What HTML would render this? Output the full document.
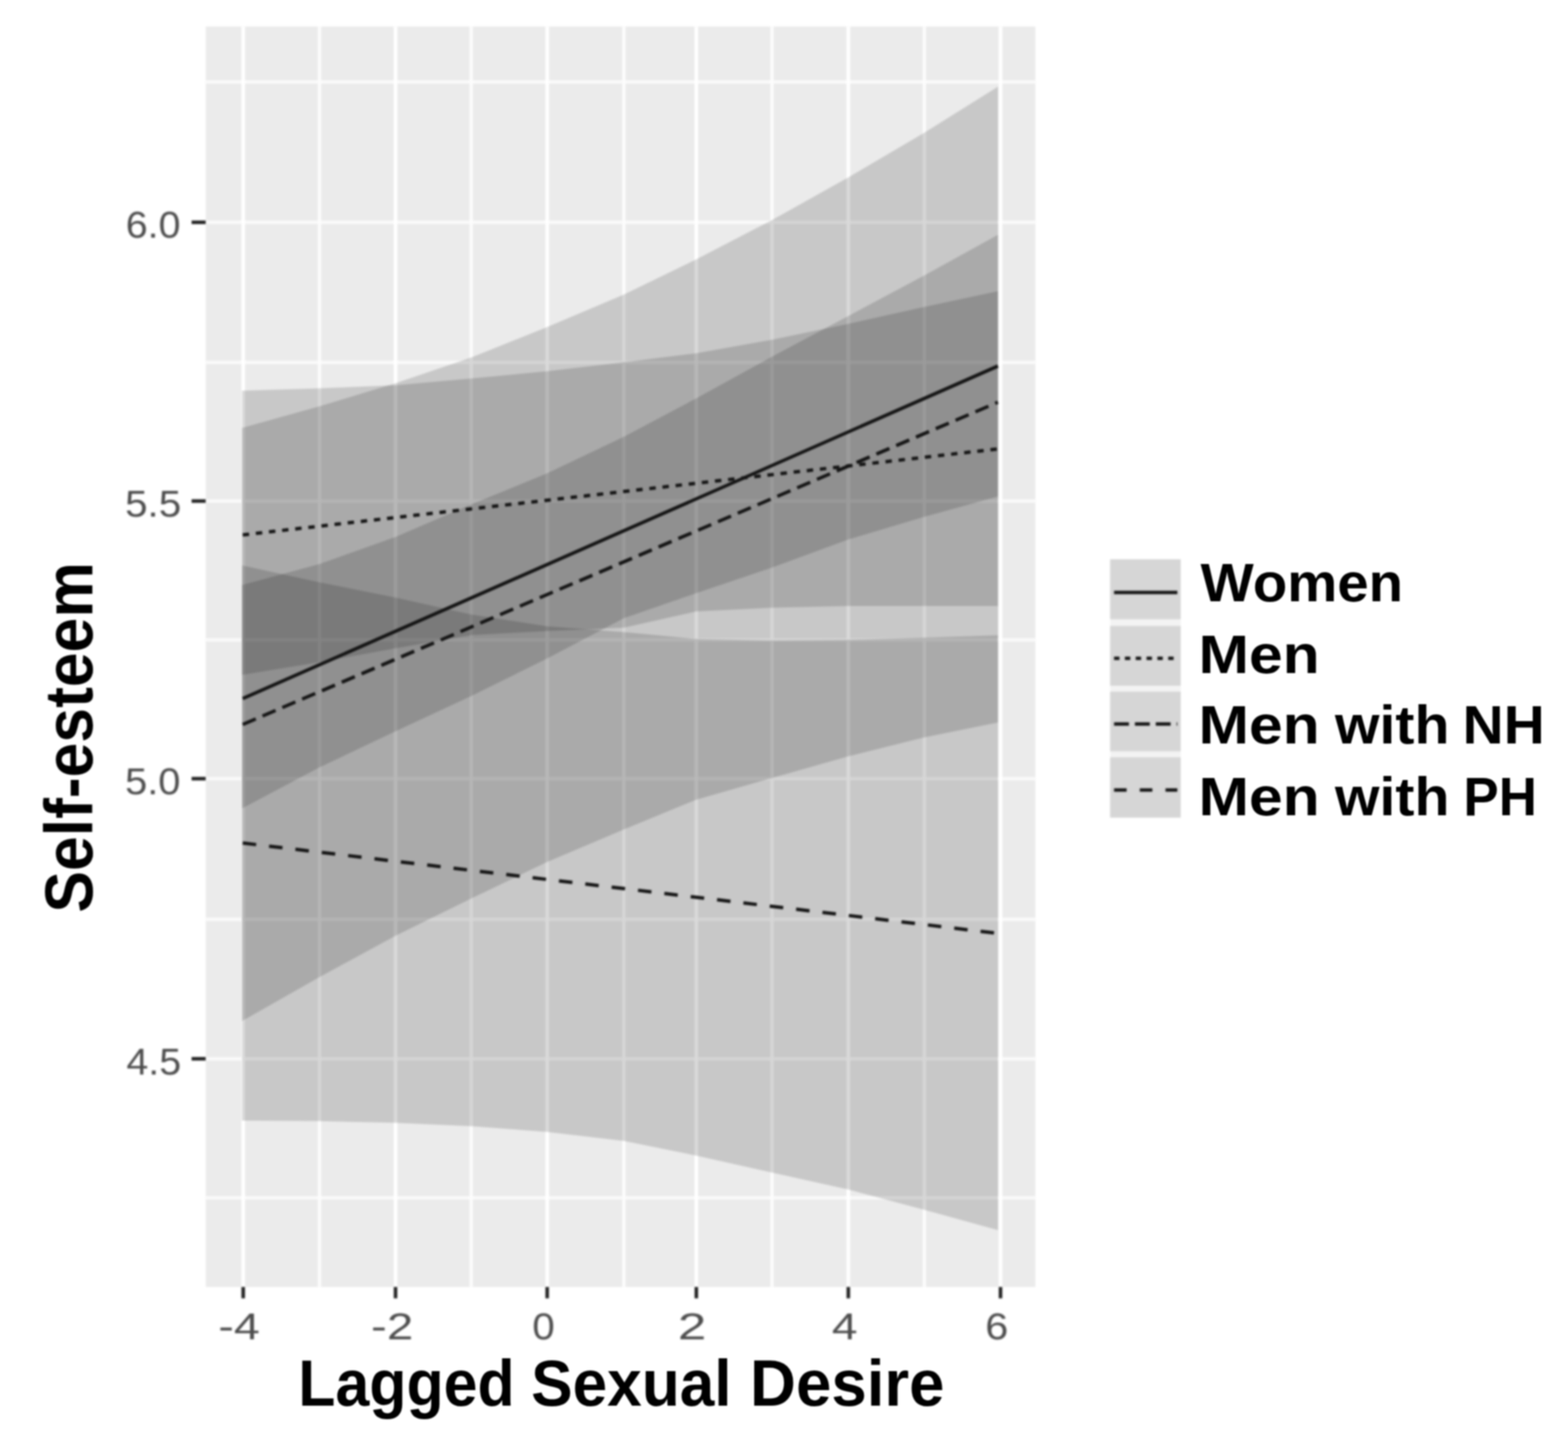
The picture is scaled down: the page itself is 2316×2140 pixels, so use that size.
<!DOCTYPE html>
<html lang="en"><head><meta charset="utf-8">
<title>Self-esteem by Lagged Sexual Desire</title>
<style>
html,body{margin:0;padding:0;background:#fff;}
body{width:2316px;height:2140px;overflow:hidden;}
svg{display:block;}
.tick{font-family:"Liberation Sans",sans-serif;font-size:56px;fill:#4d4d4d;}
.ttl{font-family:"Liberation Sans",sans-serif;font-weight:bold;fill:#000;}
</style></head><body>
<svg width="2316" height="2140" viewBox="0 0 2316 2140">
<defs><filter id="soft" filterUnits="userSpaceOnUse" x="0" y="0" width="2316" height="2140" color-interpolation-filters="sRGB"><feGaussianBlur stdDeviation="1.7"/></filter>
<filter id="soft2" filterUnits="userSpaceOnUse" x="0" y="0" width="2316" height="2140" color-interpolation-filters="sRGB"><feGaussianBlur stdDeviation="1"/></filter></defs>
<rect x="0" y="0" width="2316" height="2140" fill="#ffffff"/>
<g id="chart" filter="url(#soft)">
<rect x="0" y="0" width="2316" height="2140" fill="#ffffff"/>
<g id="panel">
<rect x="303.8" y="39.2" width="1225.5" height="1861.5" fill="#ebebeb"/>
<g stroke="#fafafa" stroke-width="5">
<line x1="303.8" y1="1769" x2="1529.3" y2="1769"/>
<line x1="303.8" y1="1563.7" x2="1529.3" y2="1563.7"/>
<line x1="303.8" y1="1357.8" x2="1529.3" y2="1357.8"/>
<line x1="303.8" y1="1150" x2="1529.3" y2="1150"/>
<line x1="303.8" y1="945" x2="1529.3" y2="945"/>
<line x1="303.8" y1="740" x2="1529.3" y2="740"/>
<line x1="303.8" y1="535.3" x2="1529.3" y2="535.3"/>
<line x1="303.8" y1="328.3" x2="1529.3" y2="328.3"/>
<line x1="303.8" y1="121" x2="1529.3" y2="121"/>
</g>
<g stroke="#fcfcfc" stroke-width="5">
<line x1="472" y1="39.2" x2="472" y2="1900.7"/>
<line x1="696" y1="39.2" x2="696" y2="1900.7"/>
<line x1="921.5" y1="39.2" x2="921.5" y2="1900.7"/>
<line x1="1140.3" y1="39.2" x2="1140.3" y2="1900.7"/>
<line x1="1365.3" y1="39.2" x2="1365.3" y2="1900.7"/>
</g>
<g stroke="#ffffff" stroke-width="5.4">
<line x1="359.2" y1="39.2" x2="359.2" y2="1900.7"/>
<line x1="584.2" y1="39.2" x2="584.2" y2="1900.7"/>
<line x1="808.2" y1="39.2" x2="808.2" y2="1900.7"/>
<line x1="1028.5" y1="39.2" x2="1028.5" y2="1900.7"/>
<line x1="1253" y1="39.2" x2="1253" y2="1900.7"/>
<line x1="1477.8" y1="39.2" x2="1477.8" y2="1900.7"/>
</g>
<g fill="rgba(0,0,0,0.148)" stroke="none">
<polygon points="357.5,864 472,833 584.2,793 696,745 808.2,699 921.5,645 1028.5,588.3 1140.3,526.7 1253,466.7 1365.3,406.7 1474,346.7 1474,733.3 1365.3,763.3 1253,796.7 1140.3,838.3 1028.5,876 921.5,913 808.2,972.5 696,1028 584.2,1080 472,1133.3 357.5,1194"/>
<polygon points="357.5,577 472,573.5 584.2,569 696,559 808.2,548.3 921.5,535 1028.5,521.7 1140.3,501.7 1253,478.3 1365.3,453.3 1474,430 1474,895 1365.3,895 1253,895 1140.3,897.5 1028.5,903 921.5,927 808.2,932 696,938 584.2,957.5 472,978 357.5,996.7"/>
<polygon points="357.5,632 472,600 584.2,566 696,528 808.2,483 921.5,435 1028.5,383 1140.3,325 1253,262 1365.3,196 1474,128 1474,1067 1365.3,1089 1253,1117 1140.3,1149 1028.5,1181 921.5,1225 808.2,1273 696,1327 584.2,1382 472,1443 357.5,1508"/>
<polygon points="357.5,835 472,860 584.2,882.5 696,907.5 808.2,925 921.5,933.5 1028.5,943.75 1140.3,946 1253,945 1365.3,941.7 1474,938.3 1474,1816.7 1365.3,1786.7 1253,1756.7 1140.3,1731.7 1028.5,1706.7 921.5,1685 808.2,1671.7 696,1663.3 584.2,1658.3 472,1655.7 357.5,1655"/>
</g>
<g fill="none" stroke="#141414" stroke-width="5">
<line x1="358.5" y1="1031.7" x2="1474" y2="540.6"/>
<line x1="358.5" y1="790" x2="1474" y2="663" stroke-dasharray="9.5 10"/>
<line x1="358.5" y1="1070" x2="1474" y2="594" stroke-dasharray="21 10.8"/>
<line x1="358.5" y1="1245" x2="1474" y2="1378.5" stroke-dasharray="20 19.2"/>
</g>
</g>
<g stroke="#222222" stroke-width="5.2">
<line x1="283" y1="328.3" x2="303.8" y2="328.3"/>
<line x1="283" y1="740" x2="303.8" y2="740"/>
<line x1="283" y1="1150" x2="303.8" y2="1150"/>
<line x1="283" y1="1563.7" x2="303.8" y2="1563.7"/>
<line x1="359.2" y1="1900.7" x2="359.2" y2="1917.5"/>
<line x1="584.2" y1="1900.7" x2="584.2" y2="1917.5"/>
<line x1="808.2" y1="1900.7" x2="808.2" y2="1917.5"/>
<line x1="1028.5" y1="1900.7" x2="1028.5" y2="1917.5"/>
<line x1="1253" y1="1900.7" x2="1253" y2="1917.5"/>
<line x1="1477.8" y1="1900.7" x2="1477.8" y2="1917.5"/>
</g>
<g id="ticklabels">
<text class="tick" x="185.72" y="351.3" font-size="56" textLength="80.8" lengthAdjust="spacingAndGlyphs">6.0</text>
<text class="tick" x="184.65" y="763" font-size="56" textLength="82.93" lengthAdjust="spacingAndGlyphs">5.5</text>
<text class="tick" x="184.69" y="1173" font-size="56" textLength="81.85" lengthAdjust="spacingAndGlyphs">5.0</text>
<text class="tick" x="186.81" y="1586.7" font-size="56" textLength="80.73" lengthAdjust="spacingAndGlyphs">4.5</text>
<text class="tick" x="322.58" y="1978.4" font-size="56" textLength="61.13" lengthAdjust="spacingAndGlyphs">-4</text>
<text class="tick" x="548.13" y="1978.4" font-size="56" textLength="62.26" lengthAdjust="spacingAndGlyphs">-2</text>
<text class="tick" x="786.16" y="1978.4" font-size="56" textLength="33.17" lengthAdjust="spacingAndGlyphs">0</text>
<text class="tick" x="1001.35" y="1978.4" font-size="56" textLength="41.99" lengthAdjust="spacingAndGlyphs">2</text>
<text class="tick" x="1228.89" y="1978.4" font-size="56" textLength="37.82" lengthAdjust="spacingAndGlyphs">4</text>
<text class="tick" x="1455.17" y="1978.4" font-size="56" textLength="33.98" lengthAdjust="spacingAndGlyphs">6</text>
</g>
<g id="legend">
<rect x="1639.7" y="826" width="104.3" height="381.5" fill="#f3f3f3"/>
<rect x="1639.7" y="826" width="104.3" height="88.5" fill="#d6d6d6"/>
<rect x="1639.7" y="924.5" width="104.3" height="88.2" fill="#d6d6d6"/>
<rect x="1639.7" y="1021.5" width="104.3" height="88" fill="#d6d6d6"/>
<rect x="1639.7" y="1118.5" width="104.3" height="89" fill="#d6d6d6"/>
<g fill="none" stroke="#141414" stroke-width="5">
<line x1="1645.5" y1="874.9" x2="1739" y2="874.9"/>
<line x1="1645.5" y1="972.3" x2="1739" y2="972.3" stroke-dasharray="8 8"/>
<line x1="1645.5" y1="1069.3" x2="1739" y2="1069.3" stroke-dasharray="22 8.8"/>
<line x1="1645.5" y1="1166.7" x2="1739" y2="1166.7" stroke-dasharray="18.6 19.4"/>
</g>
</g>
</g>
<g id="titles" filter="url(#soft2)">
<text class="ttl" y="2076.4" font-size="95.5"><tspan x="440.58" textLength="319.66" lengthAdjust="spacingAndGlyphs">Lagged</tspan> <tspan x="784.49" textLength="296.13" lengthAdjust="spacingAndGlyphs">Sexual</tspan> <tspan x="1107.8" textLength="287.3" lengthAdjust="spacingAndGlyphs">Desire</tspan></text>
<text class="ttl" transform="translate(136.4,1347.85) rotate(-90)" x="0" y="0" font-size="100" textLength="517.66" lengthAdjust="spacingAndGlyphs">Self-esteem</text>
<text class="ttl" y="887.6" font-size="80"><tspan x="1773.39" textLength="298.92" lengthAdjust="spacingAndGlyphs">Women</tspan></text>
<text class="ttl" y="993.6" font-size="80"><tspan x="1770.18" textLength="178.99" lengthAdjust="spacingAndGlyphs">Men</tspan></text>
<text class="ttl" y="1098" font-size="80"><tspan x="1770.18" textLength="178.99" lengthAdjust="spacingAndGlyphs">Men</tspan> <tspan x="1971.79" textLength="169.19" lengthAdjust="spacingAndGlyphs">with</tspan> <tspan x="2160.37" textLength="121.26" lengthAdjust="spacingAndGlyphs">NH</tspan></text>
<text class="ttl" y="1203.6" font-size="80"><tspan x="1770.18" textLength="178.99" lengthAdjust="spacingAndGlyphs">Men</tspan> <tspan x="1971.79" textLength="169.19" lengthAdjust="spacingAndGlyphs">with</tspan> <tspan x="2161.51" textLength="108.58" lengthAdjust="spacingAndGlyphs">PH</tspan></text>
</g>
</svg>
</body></html>
